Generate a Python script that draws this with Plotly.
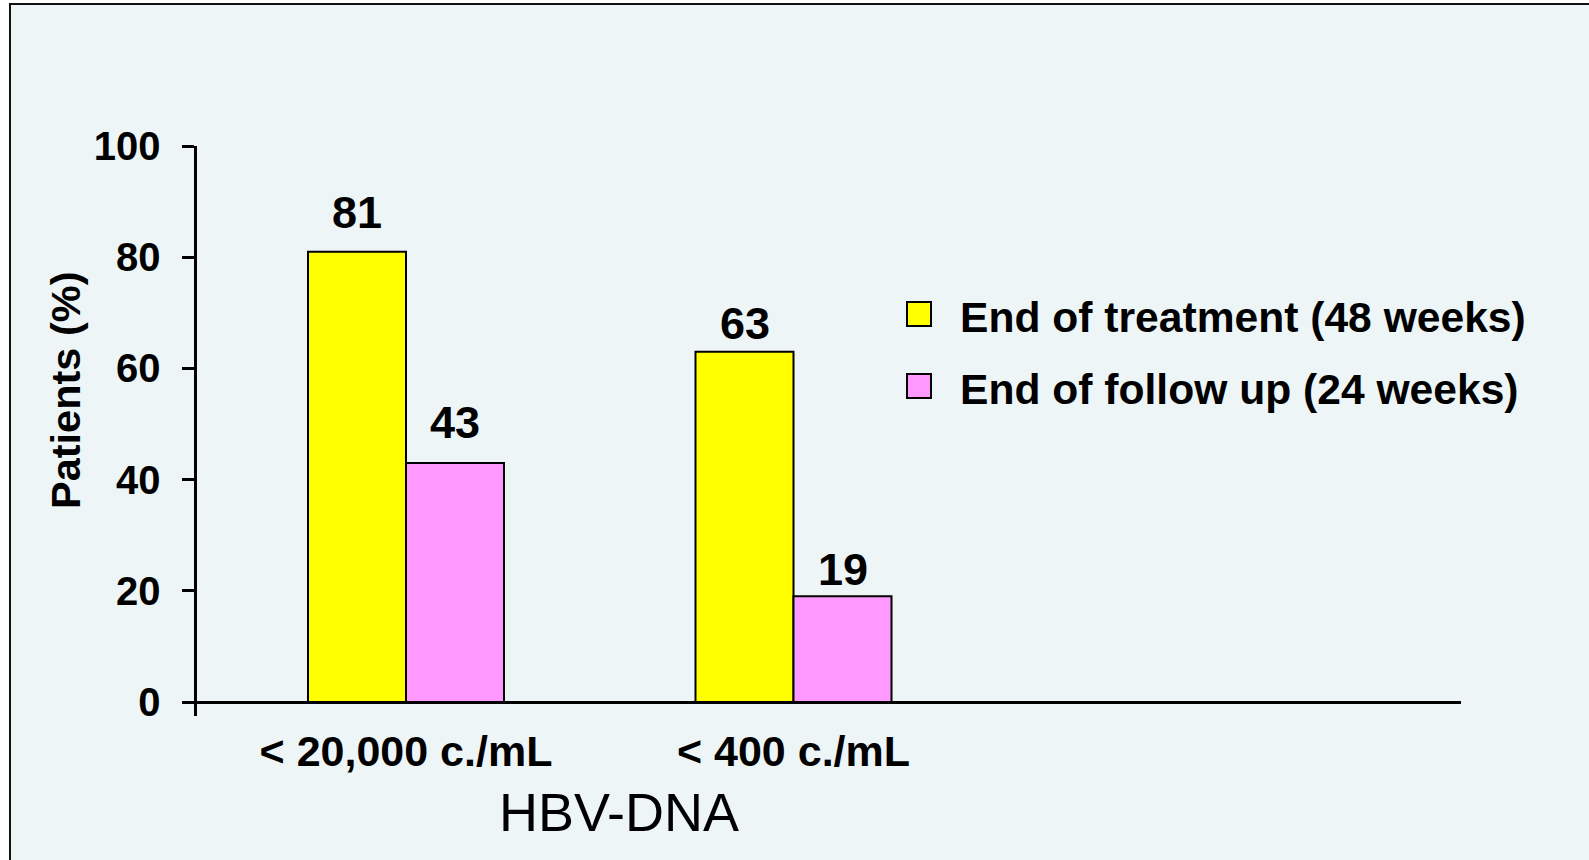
import plotly.graph_objects as go

# HBV-DNA response rates (% of patients)
categories = ["< 20,000 c./mL", "< 400 c./mL"]
series_names = ["End of treatment (48 weeks)", "End of follow up (24 weeks)"]
end_of_treatment = [81, 63]
end_of_follow_up = [43, 19]
y_ticks = [0, 20, 40, 60, 80, 100]

W, H = 1589, 860
BG = "#EDF5F7"
COLORS = ["#FFFF00", "#FF99FF"]
FONT = "Arial, Liberation Sans, sans-serif"


def fx(px):
    return px / W


def fy(py):
    return 1 - py / H


BAR_W = 0.2529  # width of one bar in category units
positions = list(range(len(categories)))

fig = go.Figure()
for name, vals, col in zip(series_names, [end_of_treatment, end_of_follow_up], COLORS):
    fig.add_trace(go.Bar(
        x=positions, y=vals, name=name,
        marker=dict(color=col, line=dict(color="black", width=2)),
        showlegend=False,
    ))

# value labels above each bar (pixel offset of label centre above bar top)
label_lift = [[39, 28], [40, 27]]
annotations = []
for s, vals in enumerate([end_of_treatment, end_of_follow_up]):
    off = (s - 0.5) * BAR_W
    for i, v in enumerate(vals):
        annotations.append(dict(
            x=positions[i] + off, y=v, xref="x", yref="y",
            text=str(v), showarrow=False, yanchor="middle",
            yshift=label_lift[s][i],
            font=dict(family=FONT, size=45, color="black", weight="bold"),
        ))

# axis titles
annotations.append(dict(
    x=fx(66), y=fy(390), xref="paper", yref="paper", text="Patients (%)",
    textangle=-90, showarrow=False, xanchor="center", yanchor="middle",
    font=dict(family=FONT, size=41.5, color="black", weight="bold"),
))
annotations.append(dict(
    x=fx(619), y=fy(812), xref="paper", yref="paper", text="HBV-DNA",
    showarrow=False, xanchor="center", yanchor="middle",
    font=dict(family=FONT, size=54, color="black"),
))

# slide frame and legend
shapes = [
    dict(type="rect", xref="paper", yref="paper", x0=fx(10), y0=fy(4), x1=1.02, y1=-0.02,
         fillcolor=BG, line=dict(color="#111111", width=2), layer="below"),
]
legend_rows = [314, 386]
for name, col, cy in zip(series_names, COLORS, legend_rows):
    shapes.append(dict(type="rect", xref="paper", yref="paper",
                       x0=fx(907), x1=fx(931), y0=fy(cy - 12), y1=fy(cy + 12),
                       fillcolor=col, line=dict(color="black", width=2)))
    annotations.append(dict(
        x=fx(958), y=fy(cy + 3), xref="paper", yref="paper", text=name,
        showarrow=False, xanchor="left", yanchor="middle",
        font=dict(family=FONT, size=42.6, color="black", weight="bold"),
    ))

y_bottom_px, y_top_px = 716, 146
x_left_px, x_right_px = 196.5, 1461
px_per_unit_y = (702 - 146) / 100.0
y_min = -(716 - 702) / px_per_unit_y
px_per_cat = 387.5
x_min = (x_left_px - 406) / px_per_cat
x_max = (x_right_px - 406) / px_per_cat

fig.update_layout(
    width=W, height=H,
    margin=dict(l=0, r=0, t=0, b=0, pad=0),
    paper_bgcolor="white",
    plot_bgcolor="rgba(0,0,0,0)",
    barmode="group",
    bargap=1 - 2 * BAR_W,
    bargroupgap=0,
    shapes=shapes,
    annotations=annotations,
    xaxis=dict(
        domain=[fx(x_left_px), fx(x_right_px)],
        range=[x_min, x_max],
        tickmode="array", tickvals=positions, ticktext=categories,
        tickfont=dict(family=FONT, size=43, color="black", weight="bold"),
        ticks="", showgrid=False, zeroline=False,
        showline=True, linecolor="black", linewidth=3,
        anchor="free", position=fy(702),
        ticklabelstandoff=10, automargin=False,
    ),
    yaxis=dict(
        domain=[fy(y_bottom_px), fy(y_top_px)],
        range=[y_min, 100],
        tickmode="array", tickvals=y_ticks,
        tickfont=dict(family=FONT, size=40, color="black", weight="bold"),
        ticks="outside", ticklen=12, tickwidth=3, tickcolor="black",
        showgrid=False, zeroline=False,
        showline=True, linecolor="black", linewidth=3,
        ticklabelstandoff=13, automargin=False,
    ),
)

fig.write_html("out.html")
